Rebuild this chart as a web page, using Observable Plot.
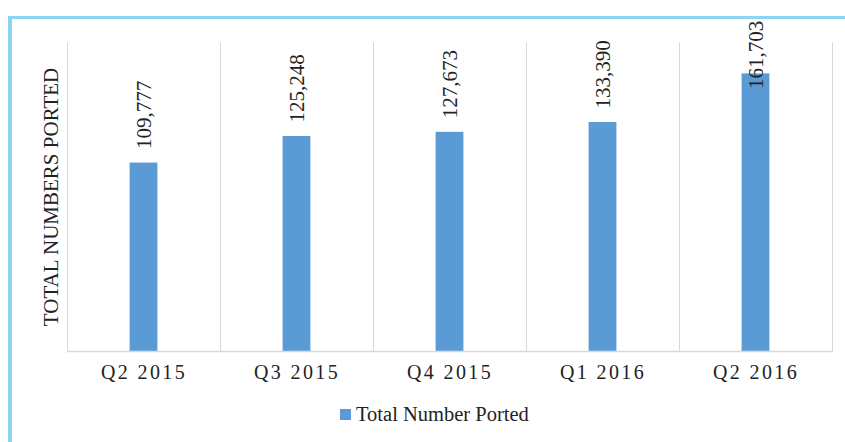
<!DOCTYPE html>
<html>
<head>
<meta charset="utf-8">
<script src="https://cdn.jsdelivr.net/npm/d3@7"></script>
<script src="https://cdn.jsdelivr.net/npm/@observablehq/plot@0.6"></script>
<style>
  html, body { margin: 0; padding: 0; background: #fff; }
  #wrap { position: relative; width: 845px; height: 442px; overflow: hidden; background: #fff; }
  #border { position: absolute; left: 8px; top: 16px; width: 900px; height: 500px;
            border-left: 4px solid #8dd3f2; border-top: 3px solid #8dd3f2; pointer-events: none; }
  #chart { position: absolute; left: 0; top: 0; }
  #legend { position: absolute; left: 340px; top: 403px; font-family: "Liberation Serif", "Times New Roman", serif;
            font-size: 20.5px; color: #222; display: flex; align-items: center; white-space: nowrap; }
  #legend .sw { width: 11px; height: 11px; background: #5b9bd5; margin-right: 5px; }
  svg [aria-label="fx-axis tick label"] text { letter-spacing: 2.4px; }
</style>
</head>
<body>
<div id="wrap">
  <div id="chart"></div>
  <div id="border"></div>
  <div id="legend"><span class="sw"></span><span>Total Number Ported</span></div>
</div>
<script>
const quarters = ["Q2 2015", "Q3 2015", "Q4 2015", "Q1 2016", "Q2 2016"];
const numbersPorted = [109777, 125248, 127673, 133390, 161703];
const seriesName = "Total Number Ported";
const yTitle = "TOTAL NUMBERS PORTED";

const data = quarters.map((q, i) => ({quarter: q, value: numbersPorted[i]}));
const fmt = d3.format(",");
const font = "Liberation Serif, Times New Roman, serif";
const grid = "#d9d9d9";

const chart = Plot.plot({
  width: 845,
  height: 400,
  marginLeft: 66,
  marginRight: 13,
  marginTop: 42,
  marginBottom: 49,
  style: {fontFamily: font, background: "transparent", color: "#222"},
  fx: {domain: quarters, padding: 0, label: null},
  y: {domain: [0, 180000]},
  marks: [
    Plot.frame({anchor: "left", stroke: grid, strokeOpacity: 1}),
    Plot.frame({anchor: "right", stroke: grid, strokeOpacity: 1}),
    Plot.barY(data, {fx: "quarter", y: "value", fill: "#5b9bd5", insetLeft: 62.6, insetRight: 62.6}),
    Plot.ruleY([0], {stroke: grid, strokeWidth: 1.5}),
    Plot.text(data.filter(d => d.value < 150000), {
      fx: "quarter", y: "value", text: d => fmt(d.value), rotate: -90,
      textAnchor: "start", dy: -14, fontSize: 21, fill: "#222"
    }),
    Plot.text(data.filter(d => d.value >= 150000), {
      fx: "quarter", y: "value", text: d => fmt(d.value), rotate: -90,
      textAnchor: "start", dy: 15, fontSize: 21, fill: "#222"
    }),
    Plot.axisFx({anchor: "bottom", tickSize: 0, tickPadding: 13, fontSize: 20, label: null}),
    Plot.axisY({ticks: [], tickSize: 0, label: yTitle, labelAnchor: "center", labelOffset: 24, fontSize: 21, labelArrow: "none"})
  ]
});
document.getElementById("chart").appendChild(chart);
</script>
</body>
</html>
